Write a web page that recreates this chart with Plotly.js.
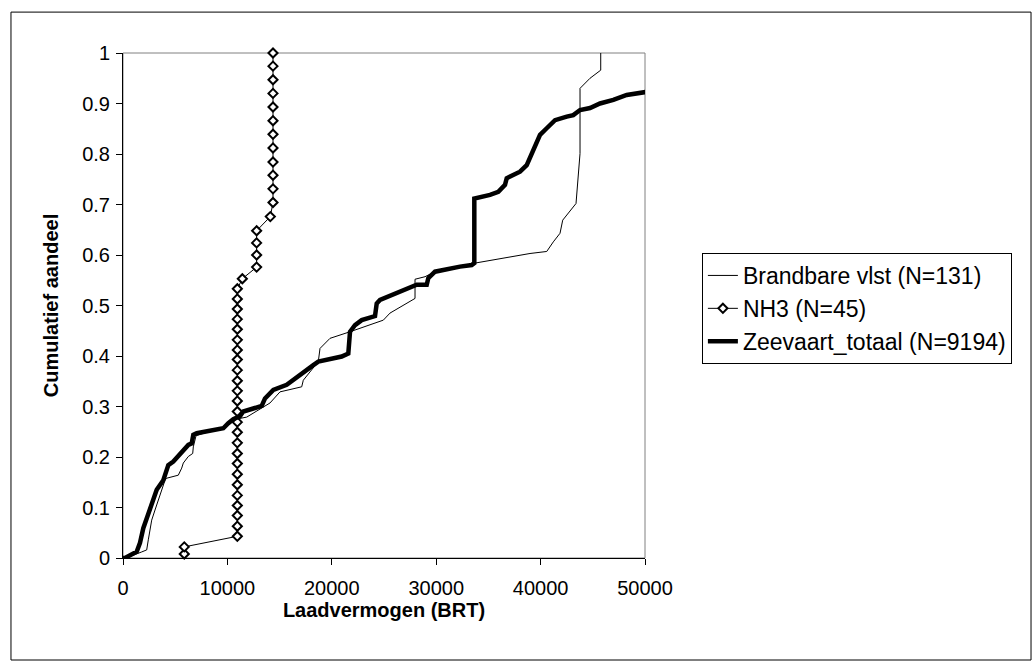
<!DOCTYPE html>
<html>
<head>
<meta charset="utf-8">
<script src="https://cdn.plot.ly/plotly-3.0.1.min.js"></script>
<style>html,body{margin:0;padding:0;background:#fff;}#chart{width:1033px;height:666px;}</style>
</head>
<body>
<div id="chart"></div>
<script>
// Brandbare vlst (N=131)
var brandX = [0, 671, 1791, 2270, 2424, 2749, 3065, 3381, 3707, 4023, 4186, 5297, 5623, 5776, 6255, 6677, 6734, 6993, 8018, 9608, 10087, 10824, 11850, 12645, 13315, 14081, 15039, 17118, 17271, 18708, 18871, 19828, 21744, 24935, 25576, 27808, 27971, 27971, 28929, 29885, 32280, 33718, 38987, 40586, 41218, 41860, 42118, 43393, 43776, 43776, 44734, 45759, 45759];
var brandY = [0, 0.003, 0.012, 0.016, 0.036, 0.075, 0.095, 0.115, 0.135, 0.154, 0.158, 0.164, 0.178, 0.188, 0.201, 0.207, 0.220, 0.242, 0.249, 0.259, 0.265, 0.275, 0.279, 0.289, 0.299, 0.307, 0.329, 0.339, 0.352, 0.389, 0.415, 0.435, 0.448, 0.471, 0.485, 0.511, 0.514, 0.552, 0.557, 0.567, 0.577, 0.584, 0.603, 0.607, 0.626, 0.643, 0.669, 0.702, 0.801, 0.930, 0.950, 0.966, 1.0];

// NH3 (N=45)
var nh3X = [5870, 5870,
  10950, 10950, 10950, 10950, 10950, 10950, 10950, 10950, 10950, 10950, 10950, 10950, 10950, 10950, 10950, 10950, 10950, 10950, 10950, 10950, 10950, 10950, 10950, 10950, 10950,
  11430, 12800, 12800, 12800, 12800, 14110,
  14368, 14368, 14368, 14368, 14368, 14368, 14368, 14368, 14368, 14368, 14368, 14368];
var nh3Y = [0.008, 0.022,
  0.043, 0.063, 0.084, 0.104, 0.124, 0.145, 0.166, 0.187, 0.207, 0.228, 0.249, 0.269, 0.290, 0.311, 0.331, 0.351, 0.372, 0.393, 0.412, 0.432, 0.453, 0.473, 0.493, 0.513, 0.533,
  0.553, 0.576, 0.600, 0.624, 0.648, 0.676,
  0.704, 0.731, 0.758, 0.784, 0.812, 0.839, 0.866, 0.893, 0.920, 0.947, 0.974, 1.0];

// Zeevaart_totaal (N=9194)
var zeeX = [0, 192, 1312, 1628, 1944, 2424, 2902, 3228, 3860, 4186, 4339, 4818, 5297, 5776, 6255, 6581, 6734, 7060, 8018, 9608, 10087, 10566, 11207, 11524, 12482, 13286, 13602, 14397, 15681, 16313, 17271, 18229, 18708, 19828, 20949, 21581, 21744, 22222, 22864, 24139, 24302, 24618, 25892, 26850, 27808, 28133, 29091, 29244, 29885, 31006, 32280, 33401, 33650, 33650, 35154, 35949, 36591, 36754, 38028, 38670, 39149, 39628, 39944, 40586, 41381, 42502, 43134, 43776, 44734, 45692, 46966, 48250, 50166];
var zeeY = [0, 0, 0.0125, 0.030, 0.059, 0.089, 0.115, 0.135, 0.154, 0.174, 0.184, 0.191, 0.201, 0.214, 0.224, 0.227, 0.244, 0.247, 0.250, 0.257, 0.267, 0.275, 0.281, 0.290, 0.296, 0.301, 0.316, 0.333, 0.343, 0.352, 0.366, 0.382, 0.389, 0.393, 0.399, 0.405, 0.448, 0.461, 0.471, 0.479, 0.504, 0.511, 0.522, 0.531, 0.537, 0.541, 0.541, 0.554, 0.567, 0.572, 0.577, 0.580, 0.584, 0.712, 0.719, 0.725, 0.739, 0.752, 0.765, 0.778, 0.801, 0.824, 0.838, 0.851, 0.867, 0.874, 0.877, 0.887, 0.891, 0.900, 0.907, 0.917, 0.923];

var names = ['Brandbare vlst (N=131)', 'NH3 (N=45)', 'Zeevaart_totaal (N=9194)'];
var xTicks = [0, 10000, 20000, 30000, 40000, 50000];
var yTicks = [0, 0.1, 0.2, 0.3, 0.4, 0.5, 0.6, 0.7, 0.8, 0.9, 1];

var traces = [
  {x: brandX, y: brandY, name: names[0], mode: 'lines', type: 'scatter', legendgroup: 'a',
   line: {color: '#000', width: 1}},
  {x: nh3X, y: nh3Y, name: names[1], mode: 'lines+markers', type: 'scatter', legendgroup: 'b',
   line: {color: '#000', width: 1},
   marker: {symbol: 'diamond', size: 7, color: '#fff', line: {color: '#000', width: 2}}, cliponaxis: false},
  {x: zeeX, y: zeeY, name: names[2], mode: 'lines', type: 'scatter', legendgroup: 'c',
   line: {color: '#000', width: 4.5}}
];

var layout = {
  width: 1033, height: 666,
  margin: {l: 123, r: 388, t: 53, b: 108},
  paper_bgcolor: '#fff', plot_bgcolor: '#fff',
  font: {family: 'Liberation Sans, Arial, sans-serif', size: 20, color: '#000'},
  showlegend: true,
  legend: {x: 1.109, y: 0.604, xanchor: 'left', yanchor: 'top', bordercolor: '#000', borderwidth: 1,
           font: {size: 23}, traceorder: 'grouped', tracegroupgap: 0, bgcolor: '#fff'},
  xaxis: {range: [0, 50000], tickvals: xTicks, ticktext: xTicks.map(String), ticks: 'outside', ticklen: 6,
          tickcolor: '#000', showline: true, linecolor: '#000', linewidth: 1, showgrid: false, zeroline: false,
          ticklabelstandoff: 6,
          title: {text: '<b>Laadvermogen (BRT)</b>', font: {size: 20}, standoff: 4}, automargin: false},
  yaxis: {range: [0, 1], tickvals: yTicks, ticktext: yTicks.map(String), ticks: 'outside', ticklen: 6,
          tickcolor: '#000', showline: true, linecolor: '#000', linewidth: 1, showgrid: false, zeroline: false,
          ticklabelstandoff: 2,
          title: {text: '<b>Cumulatief aandeel</b>', font: {size: 20}, standoff: 18}, automargin: false},
  shapes: [
    {type: 'rect', xref: 'paper', yref: 'paper', x0: 0, x1: 1, y0: 0, y1: 1, line: {color: '#808080', width: 1}, layer: 'below'},
    {type: 'rect', xref: 'paper', yref: 'paper', x0: -0.2146, x1: 1.7395, y0: -0.202, y1: 1.081, line: {color: '#000', width: 1}, layer: 'below'}
  ]
};

Plotly.newPlot('chart', traces, layout, {displayModeBar: false, staticPlot: true});
</script>
</body>
</html>
